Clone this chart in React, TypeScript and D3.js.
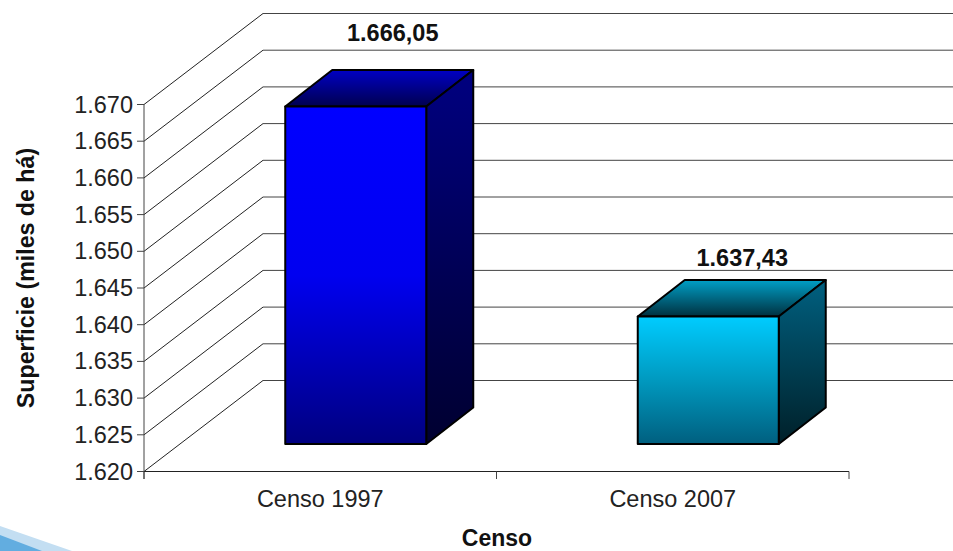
import React from "react";
import * as d3 from "d3";

const categories = ["Censo 1997", "Censo 2007"];
const values = [1666.05, 1637.43];
const valueLabels = ["1.666,05", "1.637,43"];
const yTicks = [1620, 1625, 1630, 1635, 1640, 1645, 1650, 1655, 1660, 1665, 1670];
const tickLabels = ["1.620", "1.625", "1.630", "1.635", "1.640", "1.645", "1.650", "1.655", "1.660", "1.665", "1.670"];
const yTitle = "Superficie (miles de há)";
const xTitle = "Censo";
const frontColors = [["#0000ff", "#0000f0", "#000080"], ["#00ccff", "#0099bf", "#005f7f"]];
const topColors = [["#0000c4", "#00004f"], ["#009fc6", "#00303f"]];
const sideColors = [["#000080", "#000030"], ["#006080", "#002029"]];

const W = 953, H = 551;
const FONT = "'Liberation Sans', Arial, sans-serif";
const wallDx = 119, wallDy = -91;
const barOffX = 36, barOffY = 27.5;
const barDx = 47, barDy = -36.5;
const labelLift = [65, 51];
const labelShift = [37, 34];

export default function App() {
  const y = d3.scaleLinear().domain([1620, 1670]).range([471.5, 104.5]);
  const x = d3.scaleBand<string>().domain(categories).range([144, 849]).paddingInner(0.6).paddingOuter(0.3);
  const step = x.step();
  const boundaries = [0, 1, 2].map((i) => 144 + i * step);
  const grad = (id: string, stops: string[]) => (
    <linearGradient id={id} x1="0" y1="0" x2="0" y2="1">
      {stops.map((c, i) => <stop key={i} offset={i / (stops.length - 1)} stopColor={c} />)}
    </linearGradient>
  );
  const line = d3.line();
  return (
    <svg width={W} height={H} viewBox={`0 0 ${W} ${H}`} style={{ position: "absolute", left: 0, top: 0, background: "#fff" }}>
      <defs>
        {categories.map((_, i) => (
          <React.Fragment key={i}>
            {grad(`f${i}`, frontColors[i])}
            {grad(`t${i}`, topColors[i])}
            {grad(`s${i}`, sideColors[i])}
          </React.Fragment>
        ))}
      </defs>
      <path d="M0,526 L72,551 L0,551 Z" fill="#c3def2" />
      <path d="M0,535 L42,551 L0,551 Z" fill="#62ade0" />
      {yTicks.map((t) => {
        const v = y(t);
        return (
          <g key={t} stroke="#222" strokeWidth={1} fill="none">
            <path d={line([[144, v], [144 + wallDx, v + wallDy]])!} />
            <path d={line([[144 + wallDx, v + wallDy], [W, v + wallDy]])!} stroke="#444" />
            <path d={line([[137, v], [144, v]])!} stroke="#444" />
          </g>
        );
      })}
      <path d={line([[144, y(1670)], [144, 479]])!} stroke="#444" fill="none" />
      <path d={line([[144, y(1620)], [849, y(1620)]])!} stroke="#222" fill="none" />
      {boundaries.map((b) => (
        <path key={b} d={line([[b, y(1620)], [b, 479]])!} stroke="#444" fill="none" />
      ))}
      {categories.map((c, i) => {
        const x0 = x(c)! + barOffX - 0.5, x1 = x0 + x.bandwidth();
        const top = y(values[i]) - barOffY + 0.5, base = y(1620) - barOffY;
        const cx = (x0 + x1) / 2;
        const st = { stroke: "#000", strokeWidth: 2, strokeLinejoin: "round" as const };
        return (
          <g key={c}>
            <path d={line([[x0, top], [x0 + barDx, top + barDy], [x1 + barDx, top + barDy], [x1, top]])! + "Z"} fill={`url(#t${i})`} {...st} />
            <path d={line([[x1, top], [x1 + barDx, top + barDy], [x1 + barDx, base + barDy], [x1, base]])! + "Z"} fill={`url(#s${i})`} {...st} />
            <rect x={x0} y={top} width={x.bandwidth()} height={base - top} fill={`url(#f${i})`} {...st} />
            <text x={cx + labelShift[i]} y={top - labelLift[i]} textAnchor="middle" fontFamily={FONT} fontWeight="bold" fontSize={23.5} fill="#111">{valueLabels[i]}</text>
            <text x={x(c)! + x.bandwidth() / 2} y={507} textAnchor="middle" fontFamily={FONT} fontSize={23.5} fill="#222">{c}</text>
          </g>
        );
      })}
      {yTicks.map((t, i) => (
        <text key={t} x={133} y={y(t) + 8} textAnchor="end" fontFamily={FONT} fontSize={23.5} fill="#222">{tickLabels[i]}</text>
      ))}
      <text transform="translate(34,278) rotate(-90)" textAnchor="middle" fontFamily={FONT} fontWeight="bold" fontSize={23.2} fill="#111">{yTitle}</text>
      <text x={497} y={546} textAnchor="middle" fontFamily={FONT} fontWeight="bold" fontSize={23} fill="#111">{xTitle}</text>
    </svg>
  );
}
